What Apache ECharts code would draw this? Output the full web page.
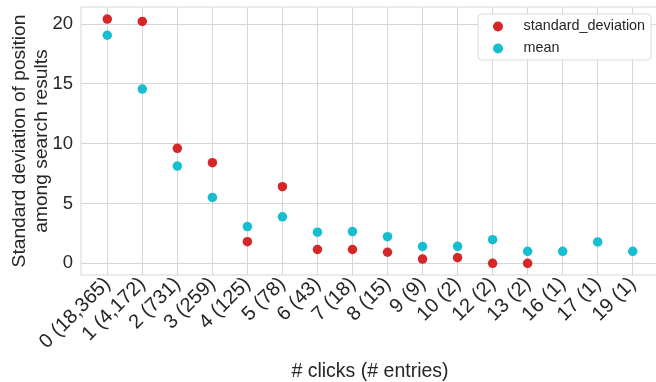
<!DOCTYPE html>
<html>
<head>
<meta charset="utf-8">
<script src="https://cdn.jsdelivr.net/npm/echarts@6/dist/echarts.min.js"></script>
<style>
  html, body { margin: 0; padding: 0; background: #fff; }
  #chart { width: 656px; height: 382px; }
</style>
</head>
<body>
<div id="chart"></div>
<script>
// Click counts with the number of entries in each bucket
const categories = ['0 (18,365)', '1 (4,172)', '2 (731)', '3 (259)', '4 (125)', '5 (78)', '6 (43)', '7 (18)',
                    '8 (15)', '9 (9)', '10 (2)', '12 (2)', '13 (2)', '16 (1)', '17 (1)', '19 (1)'];
// Standard deviation of position (null where a bucket has a single entry)
const stdValues = [20.4, 20.2, 9.6, 8.4, 1.8, 6.4, 1.15, 1.15, 0.92, 0.35, 0.47, 0.0, 0.0, null, null, null];
// Mean position
const meanValues = [19.05, 14.55, 8.12, 5.5, 3.07, 3.88, 2.6, 2.65, 2.22, 1.4, 1.42, 1.97, 1.0, 1.0, 1.78, 1.0];
const yTicks = [0, 5, 10, 15, 20];

const toPoints = vals => vals.map((v, i) => (v === null ? null : [i, v])).filter(p => p !== null);
const tickIdx = categories.map((_, i) => i);

const font = 'Liberation Sans, Arial, sans-serif';
const textColor = '#262626';
const gridColor = '#d6d6d6';

const chart = echarts.init(document.getElementById('chart'), null, { renderer: 'canvas' });
chart.setOption({
  animation: false,
  backgroundColor: '#fff',
  grid: {
    left: 81, top: 7, width: 578, height: 268,
    show: true, borderColor: gridColor, borderWidth: 1,
    containLabel: false, outerBoundsMode: 'none'
  },
  legend: {
    orient: 'vertical',
    left: 478, top: 14,
    padding: [4, 6, 3, 15],
    itemWidth: 41, itemHeight: 10, itemGap: 5,
    icon: 'circle',
    backgroundColor: '#fff',
    borderColor: '#d9d9d9', borderWidth: 1, borderRadius: 4,
    textStyle: { fontFamily: font, fontSize: 14.4, color: textColor, lineHeight: 17 },
    data: ['standard_deviation', 'mean']
  },
  xAxis: {
    type: 'value',
    min: -0.75, max: 15.75,
    name: '# clicks (# entries)',
    nameLocation: 'middle', nameGap: 87, nameMoveOverlap: false,
    nameTextStyle: { fontFamily: font, fontSize: 19.5, color: textColor },
    axisLine: { show: false },
    axisTick: { show: false, customValues: tickIdx },
    axisLabel: {
      customValues: tickIdx,
      rotate: 45, margin: 6,
      fontFamily: font, fontSize: 20, color: textColor,
      formatter: v => categories[Math.round(v)] || ''
    },
    splitLine: { show: true, lineStyle: { color: gridColor, width: 1 } }
  },
  yAxis: {
    type: 'value',
    min: -0.98, max: 21.41,
    name: 'Standard deviation of position\namong search results',
    nameLocation: 'middle', nameGap: 28, nameMoveOverlap: false,
    nameTextStyle: { fontFamily: font, fontSize: 19.2, color: textColor, lineHeight: 22, align: 'center' },
    axisLine: { show: false },
    axisTick: { show: false, customValues: yTicks },
    axisLabel: { customValues: yTicks, margin: 8, fontFamily: font, fontSize: 18.5, color: textColor },
    splitLine: { show: true, lineStyle: { color: gridColor, width: 1 } }
  },
  series: [
    {
      name: 'standard_deviation', type: 'scatter',
      data: toPoints(stdValues),
      symbolSize: 9.5,
      itemStyle: { color: '#d62728', opacity: 1 }
    },
    {
      name: 'mean', type: 'scatter',
      data: toPoints(meanValues),
      symbolSize: 9.5,
      itemStyle: { color: '#17becf', opacity: 1 }
    }
  ]
});
</script>
</body>
</html>
